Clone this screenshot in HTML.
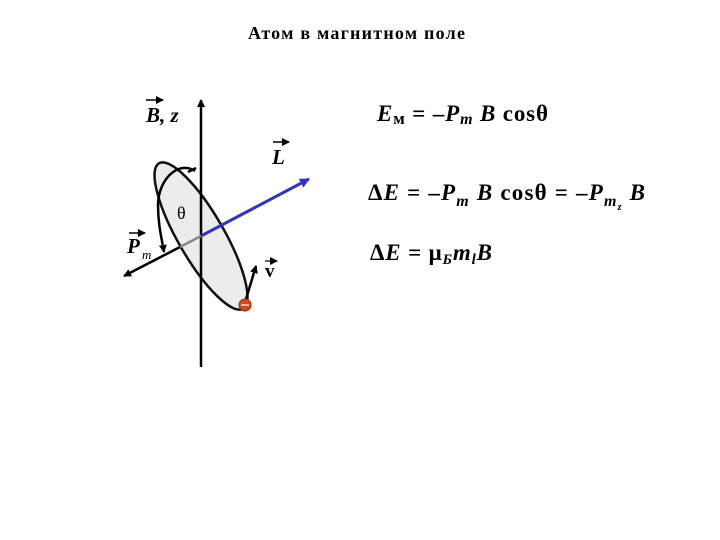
<!DOCTYPE html>
<html><head><meta charset="utf-8"><style>
html,body{margin:0;padding:0;background:#fff;}
svg{display:block}
text{font-family:"Liberation Serif","DejaVu Serif",serif;}
</style></head><body>
<svg width="720" height="540" viewBox="0 0 720 540" xmlns="http://www.w3.org/2000/svg">
<defs>
<marker id="ab" markerWidth="8" markerHeight="8" refX="7" refY="4" orient="auto" markerUnits="userSpaceOnUse"><path d="M0,0 L8,4 L0,8 z" fill="#000"/></marker>
<marker id="abl" markerWidth="10" markerHeight="10" refX="9" refY="5" orient="auto" markerUnits="userSpaceOnUse"><path d="M0,0 L10,5 L0,10 z" fill="#3333bb"/></marker>
</defs>
<text x="248" y="39" font-size="18" font-weight="bold" textLength="217" lengthAdjust="spacing">Атом в магнитном поле</text>
<!-- ellipse -->
<ellipse cx="201" cy="236" rx="84" ry="23" transform="rotate(60 201 236)" fill="#ececec" stroke="#111" stroke-width="2.5"/>
<!-- axis -->
<line x1="201" y1="367" x2="201" y2="100" stroke="#000" stroke-width="2.5" marker-end="url(#ab)"/>
<!-- Pm -->
<line x1="201" y1="236" x2="180" y2="247" stroke="#888" stroke-width="2.5"/>
<line x1="180" y1="247" x2="124" y2="276" stroke="#000" stroke-width="2.5" marker-end="url(#ab)"/>
<!-- L -->
<line x1="201" y1="236" x2="309" y2="179" stroke="#3333bb" stroke-width="3" marker-end="url(#abl)"/>
<!-- theta arc -->
<path d="M195,171 C178,160 158,180 158,205 C158,225 162,240 164,252" fill="none" stroke="#000" stroke-width="2.5" marker-end="url(#ab)"/>
<path d="M188,172 L196,168" stroke="#000" stroke-width="2.5"/>
<!-- v -->
<line x1="246" y1="299" x2="256" y2="266" stroke="#000" stroke-width="2.5" marker-end="url(#ab)"/>
<circle cx="245" cy="305" r="6" fill="#d04a1c" stroke="#a02a10" stroke-width="1"/>
<line x1="241" y1="305" x2="249" y2="305" stroke="#fff" stroke-width="1.2"/>
<!-- labels -->
<text x="146" y="122" font-size="21" font-weight="bold" font-style="italic">B, z</text>
<line x1="146" y1="100" x2="163" y2="100" stroke="#000" stroke-width="1.5" marker-end="url(#ab)"/>
<text x="272" y="164" font-size="21" font-weight="bold" font-style="italic">L</text>
<line x1="273" y1="142" x2="289" y2="142" stroke="#000" stroke-width="1.5" marker-end="url(#ab)"/>
<text x="177" y="219" font-size="18">θ</text>
<text x="127" y="253" font-size="21" font-weight="bold" font-style="italic">P</text>
<text x="142" y="259" font-size="13" font-style="italic">m</text>
<line x1="129" y1="233" x2="145" y2="233" stroke="#000" stroke-width="1.5" marker-end="url(#ab)"/>
<text x="265" y="277" font-size="19" font-weight="bold" font-family="Liberation Sans">v</text>
<line x1="265" y1="261" x2="277" y2="261" stroke="#000" stroke-width="1.2" marker-end="url(#ab)"/>
<!-- equations -->
<text x="377" y="121" font-size="23" font-weight="bold" textLength="171" lengthAdjust="spacing"><tspan font-style="italic">E</tspan><tspan font-size="17" dy="3">м</tspan><tspan dy="-3"> = –</tspan><tspan font-style="italic">P</tspan><tspan font-style="italic" font-size="16" dy="3">m</tspan><tspan dy="-3"> </tspan><tspan font-style="italic">B</tspan> cosθ</text>
<text x="368" y="200" font-size="23" font-weight="bold" textLength="277" lengthAdjust="spacing">Δ<tspan font-style="italic">E</tspan> = –<tspan font-style="italic">P</tspan><tspan font-style="italic" font-size="16" dy="6">m</tspan><tspan dy="-6">  </tspan><tspan font-style="italic">B</tspan> cosθ  = –<tspan font-style="italic">P</tspan><tspan font-style="italic" font-size="16" dy="6">m</tspan><tspan font-style="italic" font-size="10" dy="4">z</tspan><tspan dy="-10">  </tspan><tspan font-style="italic">B</tspan></text>
<text x="370" y="260" font-size="23" font-weight="bold" textLength="122" lengthAdjust="spacing">Δ<tspan font-style="italic">E</tspan> = μ<tspan font-style="italic" font-size="15" dy="4">Б</tspan><tspan font-style="italic" dy="-4">m</tspan><tspan font-style="italic" font-size="15" dy="4">l</tspan><tspan font-style="italic" dy="-4">B</tspan></text>
</svg>
</body></html>
